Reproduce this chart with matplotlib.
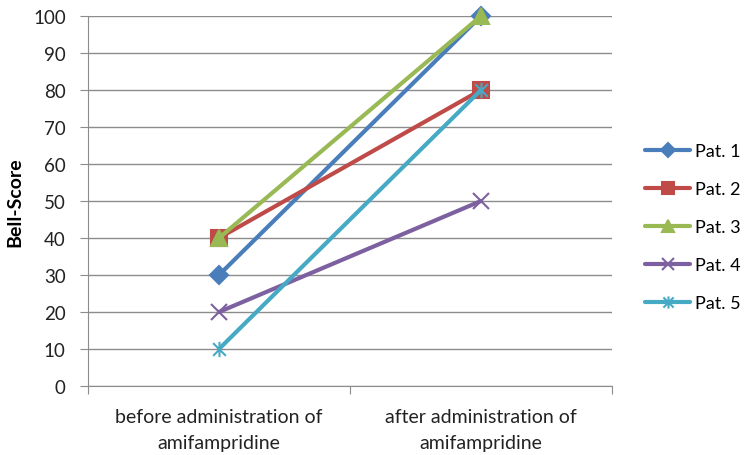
import matplotlib
matplotlib.use("Agg")
import matplotlib.pyplot as plt
from matplotlib.path import Path

categories = ["before administration of\namifampridine", "after administration of\namifampridine"]
series_names = ["Pat. 1", "Pat. 2", "Pat. 3", "Pat. 4", "Pat. 5"]
pat1 = [30, 100]
pat2 = [40, 80]
pat3 = [40, 100]
pat4 = [20, 50]
pat5 = [10, 80]
values = [pat1, pat2, pat3, pat4, pat5]
yticks = [0, 10, 20, 30, 40, 50, 60, 70, 80, 90, 100]

colors = ["#4A7EBB", "#BE4B48", "#98B954", "#7D60A0", "#46AAC5"]
star = Path([(-1, -1), (1, 1), (-1, 1), (1, -1), (0, -1.2), (0, 1.2)],
            [Path.MOVETO, Path.LINETO, Path.MOVETO, Path.LINETO, Path.MOVETO, Path.LINETO])
markers = ["D", "s", "^", "x", star]
msizes = [9, 11, 11, 11, 11]

plt.rcParams['font.family'] = ['Lato', 'DejaVu Sans']
fig = plt.figure(figsize=(7.5, 4.56), dpi=100)
ax = fig.add_axes([88/750, 69/456, 524/750, 370/456])

x = [0.5, 1.5]
for name, vals, c, m, ms in zip(series_names, values, colors, markers, msizes):
    ax.plot(x, vals, color=c, lw=3, marker=m, ms=ms, mec=c, mfc=c, mew=1.5, label=name,
            solid_capstyle='round', clip_on=False)

ax.set_xlim(0, 2)
ax.set_ylim(0, 100)
ax.set_yticks(yticks)
ax.set_yticklabels([str(t) for t in yticks], fontsize=13.5, color="#222222")
ax.yaxis.grid(True, color="#8c8c8c", lw=1)
ax.set_axisbelow(True)
ax.set_xticks([0, 1, 2])
ax.set_xticklabels([])
ax.set_xticks(x, minor=True)
ax.set_xticklabels(categories, minor=True, fontsize=14, color="#222222", linespacing=1.6)
ax.tick_params(axis='x', which='minor', length=0, pad=16)
ax.tick_params(axis='x', which='major', length=6, color="#8c8c8c", direction='out')
ax.tick_params(axis='y', length=6, color="#8c8c8c", pad=10)
for s in ["top", "right"]:
    ax.spines[s].set_visible(False)
for s in ["left", "bottom"]:
    ax.spines[s].set_color("#8c8c8c")
ax.set_ylabel("Bell-Score", fontsize=14, fontweight='bold', labelpad=7)

leg = ax.legend(loc='center left', bbox_to_anchor=((645 - 88) / 524, 0.43), frameon=False,
                fontsize=13, handlelength=2.5, labelspacing=1.22, handletextpad=0.28,
                borderpad=0, borderaxespad=0, markerscale=0.8)
fig.savefig("out.png", dpi=100)
